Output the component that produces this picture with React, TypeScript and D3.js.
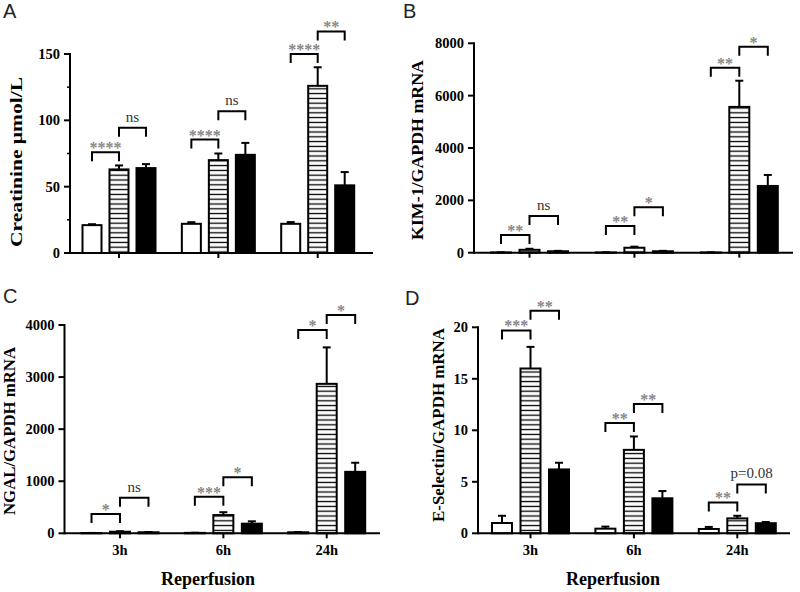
import React from 'react'
import * as d3 from 'd3'

const groups = ['3h', '6h', '24h']
const series = ['sham', 'iri', 'treated']

// A - creatinine
const creatMean = [[21, 22, 22], [63, 70, 126], [64, 74, 51]]
const creatErr = [[0.7, 1.2, 1.3], [3, 5, 14], [3, 9, 10]]
const creatTicks = [0, 50, 100, 150]
const creatMinor = [25, 75, 125]
const creatSig = [
  { g: 0, a: 0, b: 1, y: 76, label: '****' },
  { g: 0, a: 1, b: 2, y: 94.5, label: 'ns' },
  { g: 1, a: 0, b: 1, y: 85.5, label: '****' },
  { g: 1, a: 1, b: 2, y: 106.8, label: 'ns' },
  { g: 2, a: 0, b: 1, y: 150, label: '****' },
  { g: 2, a: 1, b: 2, y: 167, label: '**' },
]

// B - KIM-1
const kimMean = [[10, 10, 10], [110, 190, 5570], [55, 55, 2550]]
const kimErr = [[5, 5, 5], [40, 40, 1000], [15, 15, 420]]
const kimTicks = [0, 2000, 4000, 6000, 8000]
const kimSig = [
  { g: 0, a: 0, b: 1, y: 676, label: '**' },
  { g: 0, a: 1, b: 2, y: 1402, label: 'ns' },
  { g: 1, a: 0, b: 1, y: 1020, label: '**' },
  { g: 1, a: 1, b: 2, y: 1734, label: '*' },
  { g: 2, a: 0, b: 1, y: 7068, label: '**' },
  { g: 2, a: 1, b: 2, y: 7870, label: '*' },
]

// C - NGAL
const ngalMean = [[5, 8, 20], [30, 350, 2870], [20, 185, 1180]]
const ngalErr = [[2, 3, 5], [10, 55, 700], [5, 45, 175]]
const ngalTicks = [0, 1000, 2000, 3000, 4000]
const ngalSig = [
  { g: 0, a: 0, b: 1, y: 370, label: '*' },
  { g: 0, a: 1, b: 2, y: 683, label: 'ns' },
  { g: 1, a: 0, b: 1, y: 703, label: '***' },
  { g: 1, a: 1, b: 2, y: 1075, label: '*' },
  { g: 2, a: 0, b: 1, y: 3902, label: '*' },
  { g: 2, a: 1, b: 2, y: 4190, label: '*' },
]

// D - E-selectin
const eselMean = [[1.0, 0.45, 0.42], [16.0, 8.1, 1.45], [6.2, 3.4, 0.98]]
const eselErr = [[0.7, 0.2, 0.2], [2.1, 1.3, 0.25], [0.65, 0.7, 0.12]]
const eselTicks = [0, 5, 10, 15, 20]
const eselSig = [
  { g: 0, a: 0, b: 1, y: 19.7, label: '***' },
  { g: 0, a: 1, b: 2, y: 21.6, label: '**' },
  { g: 1, a: 0, b: 1, y: 10.7, label: '**' },
  { g: 1, a: 1, b: 2, y: 12.55, label: '**' },
  { g: 2, a: 0, b: 1, y: 3.0, label: '**' },
  { g: 2, a: 1, b: 2, y: 4.75, label: 'p=0.08' },
]

const serif = "'Liberation Serif', 'Times New Roman', serif"
const sans = "'Liberation Sans', Arial, sans-serif"

type Sig = { g: number; a: number; b: number; y: number; label: string }
type Frame = {
  left: number; right: number; y0: number; yTop: number; c0: number; c2: number
  half: number; pad: number
  letter: string; lx: number; ly: number
  title: string; tx: number; ty: number; tlen: number
  xLabel?: number
}

function Panel({ f, mean, err, ticks, minor = [], sig }: {
  f: Frame; mean: number[][]; err: number[][]; ticks: number[]; minor?: number[]; sig: Sig[]
}) {
  const y = d3.scaleLinear().domain([0, ticks[ticks.length - 1]]).range([f.y0, f.yTop])
  const x = d3.scalePoint<string>().domain(groups).range([f.c0, f.c2])
  const inner = d3.scaleBand<string>().domain(series).range([-f.half, f.half]).paddingInner(f.pad)
  const bw = inner.bandwidth()
  const cx = (g: number, s: number) => x(groups[g])! + inner(series[s])! + bw / 2
  const fills = ['#fff', 'url(#stripes)', '#000']

  return (
    <g>
      <text x={f.lx} y={f.ly} fontFamily={sans} fontSize={20} fill="#222">{f.letter}</text>
      <text transform={`translate(${f.tx},${f.ty}) rotate(-90)`} textAnchor="middle"
        dominantBaseline="central" fontFamily={serif} fontWeight="bold" fontSize={16.5}
        textLength={f.tlen} lengthAdjust="spacingAndGlyphs">{f.title}</text>

      {series.map((s, si) => groups.map((g, gi) => {
        const v = mean[si][gi]
        const e = err[si][gi]
        const bx = x(g)! + inner(s)!
        const c = bx + bw / 2
        return (
          <g key={s + g}>
            <rect x={bx} y={y(v)} width={bw} height={f.y0 - y(v)} fill={fills[si]}
              stroke="#000" strokeWidth={2} />
            <line x1={c} x2={c} y1={y(v)} y2={y(v + e)} stroke="#000" strokeWidth={2} />
            <line x1={c - 4} x2={c + 4} y1={y(v + e)} y2={y(v + e)} stroke="#000" strokeWidth={2} />
          </g>
        )
      }))}

      {/* axes */}
      <line x1={f.left} x2={f.left} y1={y(ticks[ticks.length - 1]) - 1} y2={f.y0 + 1} stroke="#000" strokeWidth={2} />
      <line x1={f.left} x2={f.right} y1={f.y0} y2={f.y0} stroke="#000" strokeWidth={2} />
      {ticks.map(t => (
        <g key={t}>
          <line x1={f.left - 6} x2={f.left} y1={y(t)} y2={y(t)} stroke="#000" strokeWidth={2} />
          <text x={f.left - 10} y={y(t) + 5} textAnchor="end" fontFamily={serif}
            fontWeight="bold" fontSize={14.5}>{t}</text>
        </g>
      ))}
      {minor.map(t => (
        <line key={t} x1={f.left - 3} x2={f.left} y1={y(t)} y2={y(t)} stroke="#000" strokeWidth={1.5} />
      ))}
      {groups.map(g => (
        <line key={g} x1={x(g)!} x2={x(g)!} y1={f.y0} y2={f.y0 + 5} stroke="#000" strokeWidth={2} />
      ))}
      {f.xLabel !== undefined && (
        <g>
          {groups.map(g => (
            <text key={g} x={x(g)!} y={f.y0 + 22} textAnchor="middle" fontFamily={serif}
              fontWeight="bold" fontSize={14.5}>{g}</text>
          ))}
          <text x={f.xLabel} y={f.y0 + 52} textAnchor="middle" fontFamily={serif}
            fontWeight="bold" fontSize={18}>Reperfusion</text>
        </g>
      )}

      {/* significance brackets */}
      {sig.map((d, i) => {
        const x1 = cx(d.g, d.a)
        const x2 = cx(d.g, d.b)
        const top = y(d.y)
        const star = d.label.startsWith('*')
        return (
          <g key={i}>
            <path d={`M${x1},${top + 9}V${top}H${x2}V${top + 9}`} fill="none" stroke="#000" strokeWidth={2} />
            <text x={(x1 + x2) / 2} y={star ? top + 1 : top - 6} textAnchor="middle"
              fontFamily={serif} fontWeight={star ? 'bold' : 'normal'} fontSize={star ? 16 : 15}
              fill={star ? '#878787' : '#333'}>{d.label}</text>
          </g>
        )
      })}
    </g>
  )
}

const frameA: Frame = {
  left: 70, right: 373, y0: 253, yTop: 54, c0: 119, c2: 317.7, half: 36.5, pad: 0.296,
  letter: 'A', lx: 3, ly: 18, title: 'Creatinine μmol/L', tx: 16, ty: 162, tlen: 170,
}
const frameB: Frame = {
  left: 474, right: 793, y0: 252.7, yTop: 43.3, c0: 529.5, c2: 739.3, half: 38.5, pad: 0.298,
  letter: 'B', lx: 403, ly: 18, title: 'KIM-1/GAPDH mRNA', tx: 417, ty: 150, tlen: 180,
}
const frameC: Frame = {
  left: 64.5, right: 380, y0: 533.3, yTop: 325, c0: 120, c2: 326.7, half: 38.5, pad: 0.298,
  letter: 'C', lx: 3, ly: 303, title: 'NGAL/GAPDH mRNA', tx: 9, ty: 431, tlen: 168, xLabel: 208,
}
const frameD: Frame = {
  left: 478, right: 790, y0: 533.3, yTop: 327.3, c0: 530.5, c2: 737.3, half: 38.5, pad: 0.298,
  letter: 'D', lx: 405, ly: 305, title: 'E-Selectin/GAPDH mRNA', tx: 438, ty: 425, tlen: 194, xLabel: 613,
}

export default function App() {
  return (
    <svg width={800} height={592} style={{ position: 'absolute', left: 0, top: 0, background: '#fff' }}>
      <defs>
        <pattern id="stripes" width={6} height={4.8} patternUnits="userSpaceOnUse">
          <rect width={6} height={4.8} fill="#fff" />
          <line x1={0} x2={6} y1={2.4} y2={2.4} stroke="#000" strokeWidth={1.3} />
        </pattern>
      </defs>
      <rect width={800} height={592} fill="#fff" />
      <Panel f={frameA} mean={creatMean} err={creatErr} ticks={creatTicks} minor={creatMinor} sig={creatSig} />
      <Panel f={frameB} mean={kimMean} err={kimErr} ticks={kimTicks} sig={kimSig} />
      <Panel f={frameC} mean={ngalMean} err={ngalErr} ticks={ngalTicks} sig={ngalSig} />
      <Panel f={frameD} mean={eselMean} err={eselErr} ticks={eselTicks} sig={eselSig} />
    </svg>
  )
}
